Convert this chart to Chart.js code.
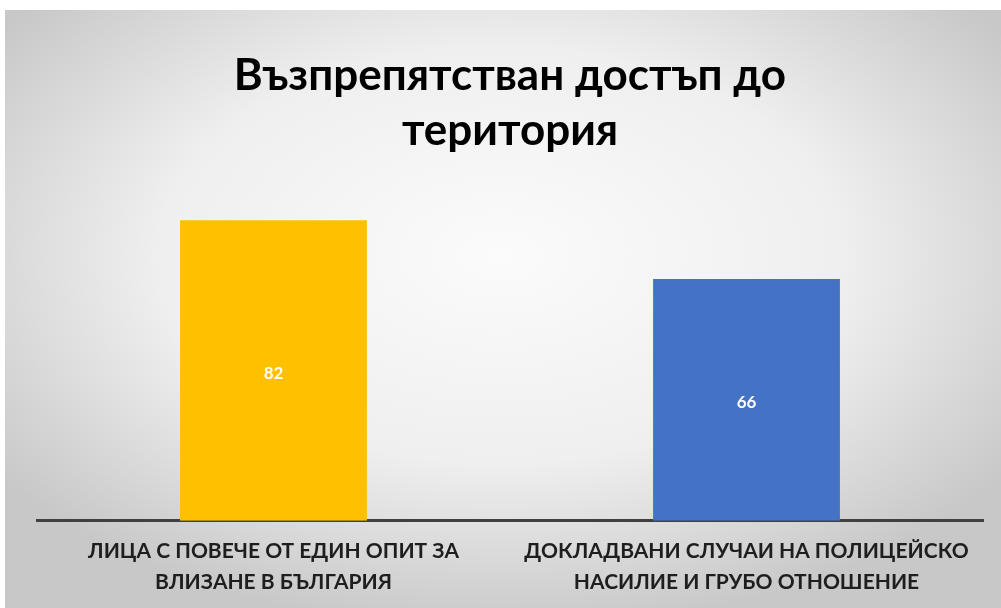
<!DOCTYPE html>
<html>
<head>
<meta charset="utf-8">
<script src="https://cdn.jsdelivr.net/npm/chart.js@4"></script>
<style>
html, body { margin: 0; padding: 0; background: #fff; }
canvas { display: block; }
</style>
</head>
<body>
<canvas id="chart" width="1001" height="608"></canvas>
<script>
const titleLines = ['Възпрепятстван достъп до', 'територия'];
const categories = [
    ['ЛИЦА С ПОВЕЧЕ ОТ ЕДИН ОПИТ ЗА', 'ВЛИЗАНЕ В БЪЛГАРИЯ'],
    ['ДОКЛАДВАНИ СЛУЧАИ НА ПОЛИЦЕЙСКО', 'НАСИЛИЕ И ГРУБО ОТНОШЕНИЕ']
];
const values = [82, 66];
const barColors = ['#FFC000', '#4472C4'];
const yMax = 99;

const fontFamily = 'Lato, "Open Sans", "Noto Sans", sans-serif';

// grey slide background, lighter in the middle
const slideBg = {
    id: 'slideBg',
    beforeDraw(chart) {
        const ctx = chart.ctx;
        const w = chart.width, h = chart.height;
        ctx.save();
        ctx.fillStyle = '#ffffff';
        ctx.fillRect(0, 0, w, h);
        ctx.translate(w * 0.5, h * 0.42);
        ctx.scale(1, h / w);
        const g = ctx.createRadialGradient(0, 0, 0, 0, 0, w * 0.62);
        g.addColorStop(0, '#fbfbfb');
        g.addColorStop(0.55, '#efefef');
        g.addColorStop(1, '#c8c8c8');
        ctx.fillStyle = g;
        ctx.fillRect(-w * 0.5 + 5, (10 - h * 0.42) * w / h, w, w * 2);
        ctx.restore();
    }
};

// white value in the middle of each bar
const barValues = {
    id: 'barValues',
    afterDatasetsDraw(chart) {
        const ctx = chart.ctx;
        const meta = chart.getDatasetMeta(0);
        ctx.save();
        ctx.fillStyle = '#ffffff';
        ctx.font = 'bold 17px ' + fontFamily;
        ctx.textAlign = 'center';
        ctx.textBaseline = 'middle';
        meta.data.forEach(function (bar, i) {
            ctx.fillText(values[i], bar.x, (bar.y + bar.base) / 2 + 3);
        });
        ctx.restore();
    }
};

new Chart(document.getElementById('chart'), {
    type: 'bar',
    data: {
        labels: categories,
        datasets: [{
            data: values,
            backgroundColor: barColors,
            borderWidth: 0,
            categoryPercentage: 1,
            barPercentage: 0.395
        }]
    },
    options: {
        responsive: false,
        animation: false,
        layout: { padding: { top: 10, left: 37, right: 18, bottom: -5 } },
        plugins: {
            legend: { display: false },
            tooltip: { enabled: false },
            title: {
                display: true,
                text: titleLines,
                color: '#000000',
                font: { family: fontFamily, size: 44, weight: 'bold', lineHeight: 1.25 },
                padding: { top: 38, bottom: 0 }
            }
        },
        scales: {
            x: {
                grid: { display: false, drawTicks: false },
                border: { display: true, color: '#404040', width: 3 },
                ticks: {
                    color: '#1e1e1e',
                    font: { family: fontFamily, size: 21, weight: 'bold', lineHeight: 1.48 },
                    padding: 15,
                    autoSkip: false,
                    maxRotation: 0
                }
            },
            y: { display: false, min: 0, max: yMax }
        }
    },
    plugins: [slideBg, barValues]
});
</script>
</body>
</html>
